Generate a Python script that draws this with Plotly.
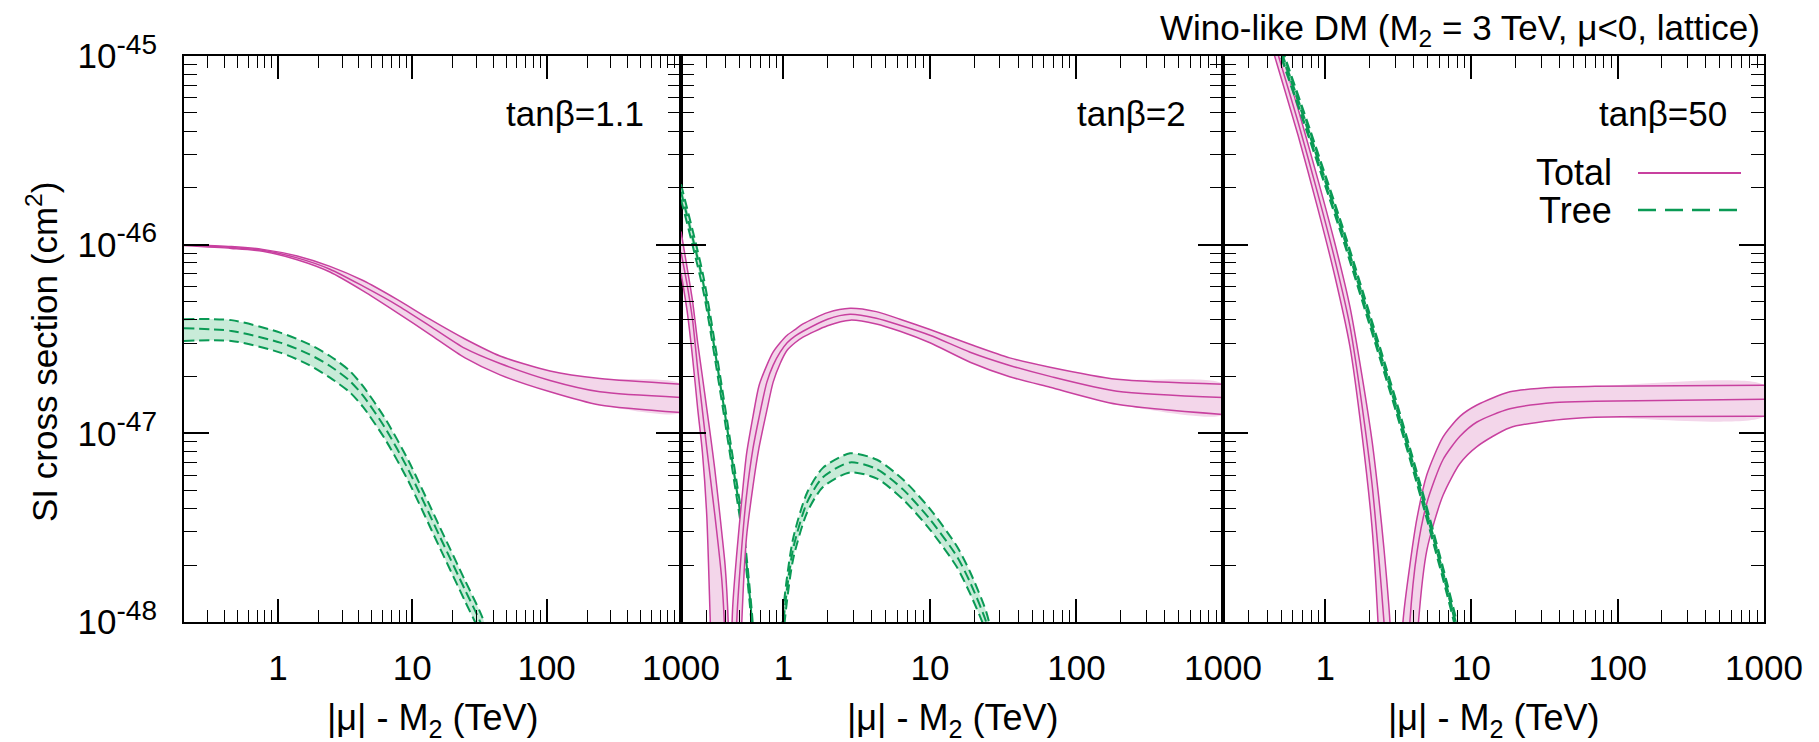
import plotly.graph_objects as go

# ---------------- data: log10 of SI cross section (cm^2) ----------------
# Panel 1 : tan(beta) = 1.1
p1_total_x = [0.2, 0.45, 0.77, 1.39, 2.44, 4.3, 7.7, 13.5, 24.7, 45, 106, 249, 1000]
p1_total_hi = [-46.0, -46.01, -46.025, -46.06, -46.115, -46.19, -46.29, -46.395, -46.50, -46.59, -46.67, -46.71, -46.74]
p1_total_mid = [-46.0, -46.015, -46.03, -46.07, -46.13, -46.22, -46.32, -46.43, -46.55, -46.63, -46.72, -46.78, -46.81]
p1_total_lo = [-46.005, -46.02, -46.035, -46.08, -46.145, -46.245, -46.36, -46.475, -46.60, -46.69, -46.78, -46.85, -46.89]

p1_tree_x = [0.2, 0.45, 1.04, 1.7, 2.44, 3.4, 4.3, 6.26, 9.3, 16.1, 24.7, 33, 45]
p1_tree_hi = [-46.395, -46.40, -46.466, -46.527, -46.59, -46.667, -46.75, -46.92, -47.14, -47.50, -47.78, -47.97, -48.25]
p1_tree_mid = [-46.443, -46.457, -46.519, -46.58, -46.643, -46.72, -46.80, -46.97, -47.19, -47.55, -47.83, -48.02, -48.3]
p1_tree_lo = [-46.51, -46.51, -46.572, -46.637, -46.705, -46.78, -46.86, -47.03, -47.25, -47.61, -47.89, -48.08, -48.36]

# Panel 2 : tan(beta) = 2
p2_total_left_x = [0.2, 0.22, 0.24, 0.26, 0.28, 0.30, 0.32, 0.34, 0.36, 0.38, 0.40, 0.42, 0.44]
p2_total_left_hi = [-45.93, -46.12, -46.30, -46.52, -46.70, -46.87, -47.03, -47.19, -47.36, -47.53, -47.70, -48.0, -49.0]
p2_total_left_mid = [-46.04, -46.21, -46.40, -46.66, -46.88, -47.08, -47.26, -47.43, -47.60, -47.78, -48.1, -48.8, -49.5]
p2_total_left_lo = [-46.15, -46.35, -46.60, -46.87, -47.10, -47.44, -48.1, -48.6, -49.0, -49.4, -49.8, -50.0, -50.0]

p2_total_right_x = [0.42, 0.45, 0.48, 0.52, 0.56, 0.62, 0.68, 0.77, 0.85, 0.95, 1.06, 1.2, 1.36, 2.0, 2.85,
                    4.3, 6.25, 10, 18.8, 35, 66, 189, 1000]
p2_total_right_hi = [-49.0, -47.93, -47.64, -47.35, -47.11, -46.91, -46.75, -46.64, -46.57, -46.52, -46.48, -46.45,
                     -46.42, -46.36, -46.337, -46.355, -46.395, -46.45, -46.528, -46.60, -46.65, -46.714, -46.74]
p2_total_right_mid = [-50.0, -49.0, -48.0, -47.6, -47.33, -47.08, -46.92, -46.73, -46.64, -46.57, -46.52, -46.485,
                      -46.459, -46.395, -46.369, -46.39, -46.427, -46.48, -46.57, -46.64, -46.698, -46.777, -46.81]
p2_total_right_lo = [-51.0, -50.0, -49.0, -48.0, -47.55, -47.28, -47.08, -46.88, -46.73, -46.63, -46.56, -46.52,
                     -46.49, -46.43, -46.40, -46.42, -46.459, -46.52, -46.623, -46.70, -46.756, -46.846, -46.90]

p2_tree_left_x = [0.2, 0.283, 0.369, 0.453, 0.53, 0.611, 0.68, 0.75]
p2_tree_left_hi = [-45.68, -46.16, -46.69, -47.135, -47.485, -47.96, -48.55, -49.4]
p2_tree_left_mid = [-45.72, -46.2, -46.73, -47.175, -47.525, -48.0, -48.6, -49.5]
p2_tree_left_lo = [-45.76, -46.24, -46.77, -47.215, -47.565, -48.04, -48.65, -49.6]

p2_tree_right_x = [0.85, 0.95, 1.0, 1.163, 1.45, 1.86, 2.85, 4.35, 6.55, 10.0, 15.3, 18.8, 24.2, 30]
p2_tree_right_hi = [-49.4, -48.4, -47.93, -47.56, -47.315, -47.183, -47.106, -47.14, -47.245, -47.40, -47.60, -47.735, -47.945, -48.25]
p2_tree_right_mid = [-49.5, -48.5, -48.0, -47.615, -47.366, -47.233, -47.154, -47.19, -47.297, -47.456, -47.653, -47.79, -48.0, -48.3]
p2_tree_right_lo = [-49.6, -48.6, -48.07, -47.67, -47.42, -47.285, -47.207, -47.24, -47.35, -47.51, -47.71, -47.85, -48.055, -48.35]

# Panel 3 : tan(beta) = 50
p3_total_left_x = [0.2, 0.475, 0.652, 0.891, 1.166, 1.476, 1.78, 2.09, 2.33, 2.52, 2.77, 3.05]
p3_total_left_hi = [-43.93, -44.92, -45.28, -45.655, -45.995, -46.33, -46.69, -47.04, -47.35, -47.61, -48.0, -49.0]
p3_total_left_mid = [-44.0, -44.99, -45.35, -45.732, -46.082, -46.432, -46.846, -47.27, -47.668, -47.997, -48.5, -49.5]
p3_total_left_lo = [-44.07, -45.06, -45.42, -45.81, -46.17, -46.54, -47.0, -47.5, -48.1, -48.8, -49.5, -50.0]

p3_total_right_x = [3.1, 3.4, 3.79, 4.24, 4.95, 6.38, 8.34, 10.9, 18.3, 37.2, 69.8, 1000]
p3_total_right_hi = [-49.0, -48.0, -47.7, -47.45, -47.22, -47.02, -46.91, -46.85, -46.78, -46.756, -46.751, -46.745]
p3_total_right_mid = [-50.0, -49.0, -48.0, -47.63, -47.37, -47.14, -47.016, -46.94, -46.87, -46.836, -46.83, -46.82]
p3_total_right_lo = [-51.0, -50.0, -49.0, -48.1, -47.62, -47.33, -47.16, -47.07, -46.97, -46.93, -46.915, -46.91]

p3_tree_x = [0.2, 0.506, 0.787, 1.32, 2.02, 3.09, 4.66, 6.38, 7.71, 10.0]
p3_tree_hi = [-44.055, -44.965, -45.395, -45.915, -46.375, -46.845, -47.325, -47.715, -47.965, -48.325]
p3_tree_mid = [-44.08, -44.99, -45.42, -45.94, -46.40, -46.87, -47.35, -47.74, -47.99, -48.35]
p3_tree_lo = [-44.105, -45.015, -45.445, -45.965, -46.425, -46.895, -47.375, -47.765, -48.015, -48.375]

panel_labels = ["tanβ=1.1", "tanβ=2", "tanβ=50"]
x_major = [1, 10, 100, 1000]
x_major_text = ["1", "10", "100", "1000"]
y_major = [1e-48, 1e-47, 1e-46, 1e-45]
y_major_exp = ["-48", "-47", "-46", "-45"]
title_text = "Wino-like DM (M<sub>2</sub> = 3 TeV, μ&lt;0, lattice)"
x_title = "|μ| - M<sub>2</sub> (TeV)"
y_title = "SI cross section (cm<sup>2</sup>)"
legend_names = ["Total", "Tree"]

# ---------------- styling / layout ----------------
FONT = "Liberation Sans, Arial, Helvetica, sans-serif"
PINK, PINK_FILL = "#c8409f", "#f3d6ea"
GREEN, GREEN_FILL = "#0a9a55", "#c8ebd8"

W, H = 1819, 742
ML, MR, MT, MB = 184, 55, 56, 120
PW, PH = W - ML - MR, H - MT - MB
edges = [184, 681, 1223, 1764]


def pxx(px):
    return (px - ML) / PW


def pxy(py):
    return (H - MB - py) / PH


def lin(v):
    return [10 ** a for a in v]


fig = go.Figure()


def add_band(i, x, hi, lo, fillcolor):
    fig.add_trace(go.Scatter(
        x=list(x) + list(x)[::-1], y=lin(hi) + lin(lo)[::-1],
        xaxis=f"x{i}", yaxis=f"y{i}", mode="lines", fill="toself",
        fillcolor=fillcolor, line=dict(width=0, shape="spline", smoothing=0.7),
        hoverinfo="skip", showlegend=False))


def add_line(i, x, y, color, dash, width):
    fig.add_trace(go.Scatter(
        x=x, y=lin(y), xaxis=f"x{i}", yaxis=f"y{i}", mode="lines",
        line=dict(color=color, width=width, dash=dash, shape="spline", smoothing=0.7),
        showlegend=False))


def add_series(i, x, hi, mid, lo, kind, width=None):
    if kind == "total":
        add_band(i, x, hi, lo, PINK_FILL)
        for arr in (hi, mid, lo):
            add_line(i, x, arr, PINK, "solid", width or 1.5)
    else:
        add_band(i, x, hi, lo, GREEN_FILL)
        for arr in (hi, mid, lo):
            add_line(i, x, arr, GREEN, "10px,5px", width or 2)


# fills & lines: tree first, total on top
add_series(1, p1_tree_x, p1_tree_hi, p1_tree_mid, p1_tree_lo, "tree")
add_series(1, p1_total_x, p1_total_hi, p1_total_mid, p1_total_lo, "total")

add_series(2, p2_tree_left_x, p2_tree_left_hi, p2_tree_left_mid, p2_tree_left_lo, "tree")
add_series(2, p2_tree_right_x, p2_tree_right_hi, p2_tree_right_mid, p2_tree_right_lo, "tree")
add_series(2, p2_total_left_x, p2_total_left_hi, p2_total_left_mid, p2_total_left_lo, "total")
add_series(2, p2_total_right_x, p2_total_right_hi, p2_total_right_mid, p2_total_right_lo, "total")

add_series(3, p3_total_left_x, p3_total_left_hi, p3_total_left_mid, p3_total_left_lo, "total")
add_series(3, p3_total_right_x, p3_total_right_hi, p3_total_right_mid, p3_total_right_lo, "total")
add_series(3, p3_tree_x, p3_tree_hi, p3_tree_mid, p3_tree_lo, "tree", width=2.6)

x_minor = [k * 10 ** e for e in (-1, 0, 1, 2) for k in range(2, 10) if 0.2 < k * 10 ** e < 1000]
y_minor = [k * 10.0 ** e for e in (-48, -47, -46) for k in range(2, 10)]
y_major_text = ["10<sup><span style='font-size:28px'>%s</span></sup>" % e for e in y_major_exp]

axis_font = dict(family=FONT, size=35, color="black")
layout = dict(
    width=W, height=H, margin=dict(l=ML, r=MR, t=MT, b=MB),
    paper_bgcolor="white", plot_bgcolor="white", showlegend=False,
    font=dict(family=FONT, size=35, color="black"),
)
for i in range(1, 4):
    sfx = "" if i == 1 else str(i)
    layout[f"xaxis{sfx}"] = dict(
        type="log", range=[-0.69897, 3], domain=[pxx(edges[i - 1]), pxx(edges[i])],
        anchor=f"y{i}", showgrid=False, zeroline=False,
        showline=True, linecolor="black", linewidth=2, mirror="ticks",
        ticks="inside", ticklen=23, tickwidth=1.6, tickcolor="black",
        tickmode="array", tickvals=x_major, ticktext=x_major_text,
        tickfont=axis_font, ticklabelstandoff=14,
        minor=dict(tickmode="array", tickvals=x_minor, ticks="inside", ticklen=12,
                   tickwidth=1.4, tickcolor="black", showgrid=False),
    )
    layout[f"yaxis{sfx}"] = dict(
        type="log", range=[-48, -45], domain=[0, 1], anchor=f"x{i}",
        showgrid=False, zeroline=False,
        showline=True, linecolor="black", linewidth=2, mirror="ticks",
        ticks="inside", ticklen=25, tickwidth=1.6, tickcolor="black",
        tickmode="array", tickvals=y_major, ticktext=y_major_text,
        tickfont=axis_font, showticklabels=(i == 1), ticklabelstandoff=18,
        minor=dict(tickmode="array", tickvals=y_minor, ticks="inside", ticklen=13,
                   tickwidth=1.4, tickcolor="black", showgrid=False),
    )
fig.update_layout(**layout)

ann = []
# x-axis titles
for i in range(3):
    ann.append(dict(text=x_title, x=pxx((edges[i] + edges[i + 1]) / 2), y=pxy(720),
                    xref="paper", yref="paper", xanchor="center", yanchor="middle",
                    showarrow=False, font=dict(family=FONT, size=36, color="black")))
# y-axis title
ann.append(dict(text=y_title, x=pxx(42), y=pxy(352), xref="paper", yref="paper",
                xanchor="center", yanchor="middle", textangle=-90, showarrow=False,
                font=dict(family=FONT, size=35, color="black")))
# top title
ann.append(dict(text=title_text, x=pxx(1762), y=pxy(30), xref="paper", yref="paper",
                xanchor="right", yanchor="middle", showarrow=False,
                font=dict(family=FONT, size=35, color="black")))
# panel labels
for i, lab in enumerate(panel_labels):
    ann.append(dict(text=lab, x=pxx(edges[i + 1] - 35), y=pxy(114), xref="paper", yref="paper",
                    xanchor="right", yanchor="middle", showarrow=False,
                    font=dict(family=FONT, size=35, color="black")))
# legend text
for name, yy in zip(legend_names, (172, 211)):
    ann.append(dict(text=name, x=pxx(1614), y=pxy(yy), xref="paper", yref="paper",
                    xanchor="right", yanchor="middle", showarrow=False,
                    font=dict(family=FONT, size=36, color="black")))
fig.update_layout(annotations=ann)

shapes = [
    dict(type="line", xref="paper", yref="paper", x0=pxx(1638), x1=pxx(1741),
         y0=pxy(173), y1=pxy(173), line=dict(color=PINK, width=2)),
    dict(type="line", xref="paper", yref="paper", x0=pxx(1638), x1=pxx(1739),
         y0=pxy(210), y1=pxy(210), line=dict(color=GREEN, width=2.5, dash="18px,9px")),
]
fig.update_layout(shapes=shapes)

fig.write_html("out.html")
